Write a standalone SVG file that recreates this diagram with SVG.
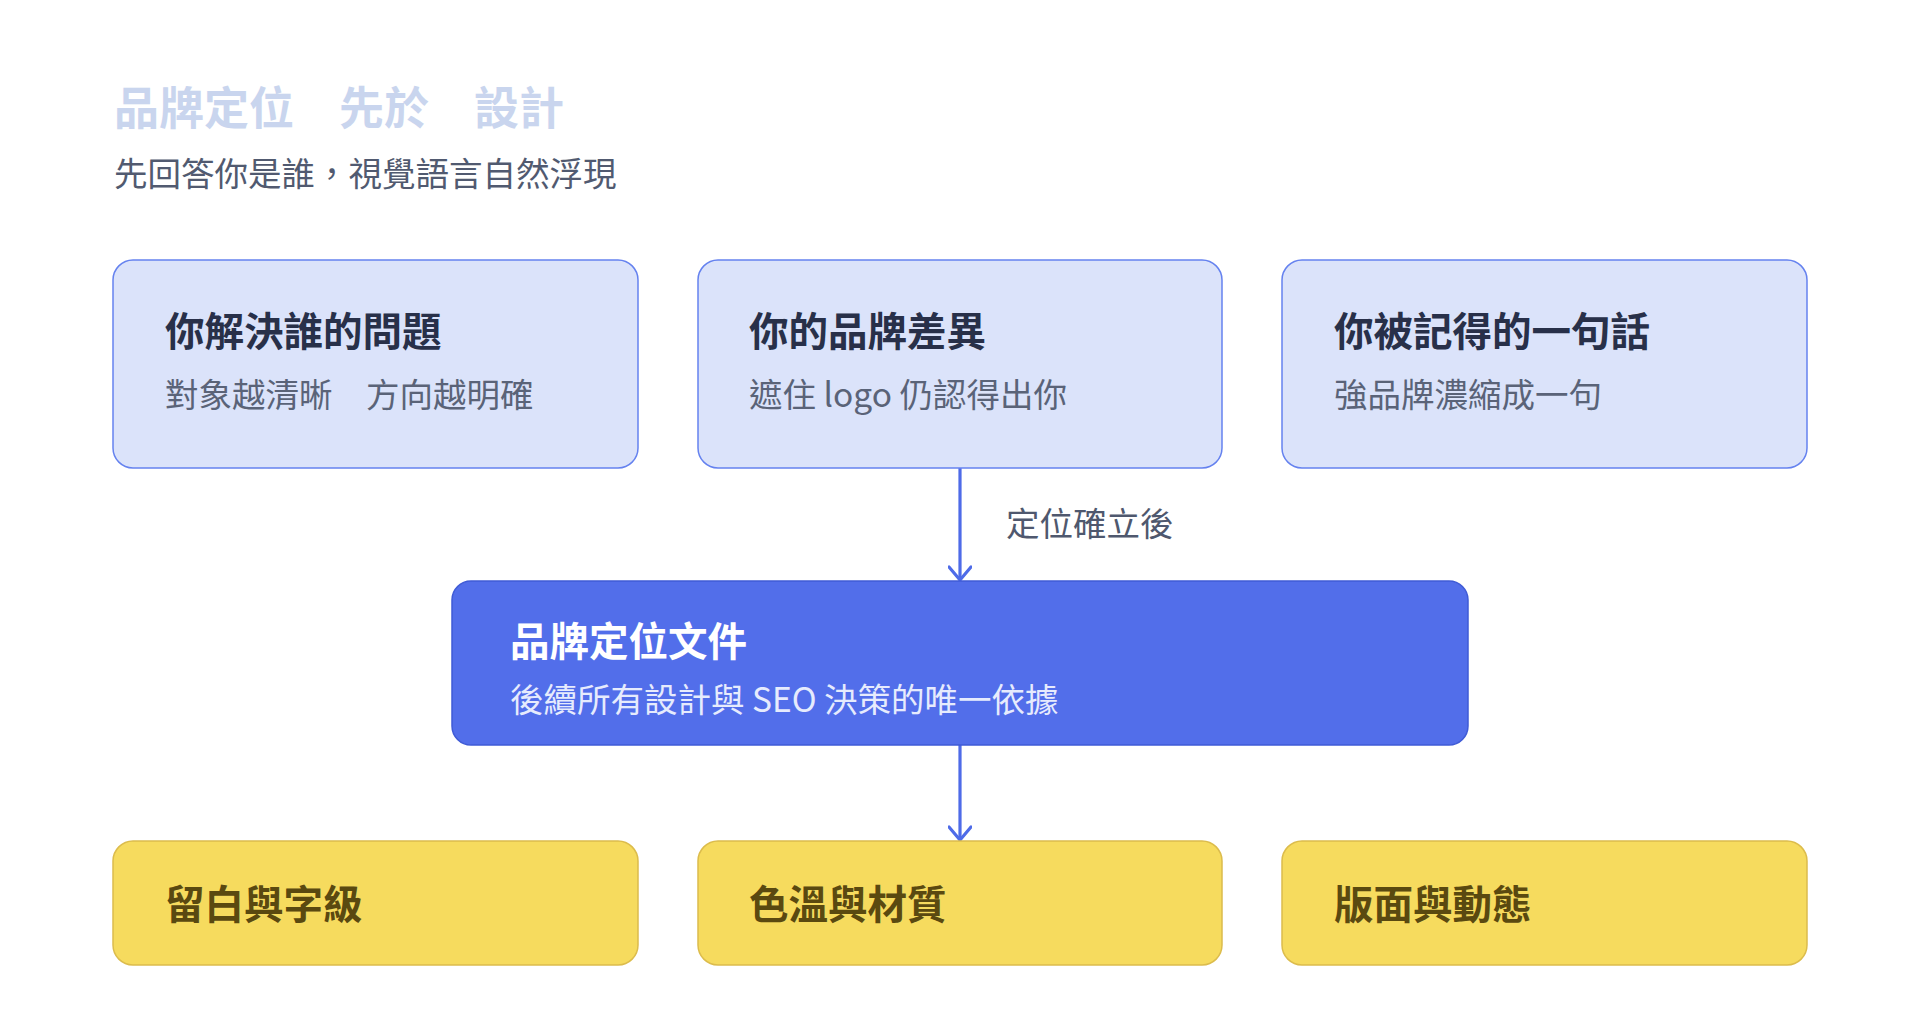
<svg xmlns="http://www.w3.org/2000/svg" width="1920" height="1016" viewBox="0 0 1920 1016">
<style>
text{font-family:"Noto Sans CJK TC","Noto Sans CJK SC",sans-serif;dominant-baseline:central}
.top rect{fill:#dbe3fa;stroke:#6582ef;stroke-width:1.5}
.mid rect{fill:#526eea;stroke:#3f5bd6;stroke-width:1.5}
.bot rect{fill:#f6db5e;stroke:#dcbc4c;stroke-width:1.5}
.t{font-size:39.5px;font-weight:700;fill:#283049}
.s{font-size:33.5px;fill:#5a6378}
.mt{font-size:39.5px;font-weight:700;fill:#ffffff}
.ms{font-size:33.5px;fill:#e6ebfd}
.bt{font-size:39.5px;font-weight:700;fill:#5a4910}
.edge{stroke:#4e6be8;stroke-width:3.2;fill:none}
</style>
<defs>
<marker id="chev" viewBox="-12 -16 24 18" refX="0" refY="0" markerWidth="24" markerHeight="18" markerUnits="userSpaceOnUse" orient="0">
<path d="M-11 -13 L0 0 L11 -13" fill="none" stroke="#4e6be8" stroke-width="3.2" stroke-linecap="round" stroke-linejoin="round"/>
</marker>
</defs>
<rect width="1920" height="1016" fill="#ffffff"/>
<g id="header">
<text x="114" y="105" style="font-size:45px;font-weight:700;fill:#c9d5ee">品牌定位　先於　設計</text>
<text x="114" y="171" style="font-size:33.5px;fill:#515a70">先回答你是誰，視覺語言自然浮現</text>
</g>
<g id="connectors">
<line class="edge" x1="960" y1="468" x2="960" y2="580" marker-end="url(#chev)"/>
<line class="edge" x1="960" y1="745" x2="960" y2="840" marker-end="url(#chev)"/>
<text x="1006" y="521" class="s" style="fill:#4f586e">定位確立後</text>
</g>
<g id="node-problem" class="top">
<rect x="113" y="260" width="525" height="208" rx="20"/>
<text x="165" y="328" class="t">你解決誰的問題</text>
<text x="165" y="392" class="s">對象越清晰　方向越明確</text>
</g>
<g id="node-difference" class="top">
<rect x="698" y="260" width="524" height="208" rx="20"/>
<text x="749" y="328" class="t">你的品牌差異</text>
<text x="749" y="392" class="s">遮住 logo 仍認得出你</text>
</g>
<g id="node-phrase" class="top">
<rect x="1282" y="260" width="525" height="208" rx="20"/>
<text x="1334" y="328" class="t">你被記得的一句話</text>
<text x="1334" y="392" class="s">強品牌濃縮成一句</text>
</g>
<g id="node-doc" class="mid">
<rect x="452" y="581" width="1016" height="164" rx="19"/>
<text x="510" y="638" class="mt">品牌定位文件</text>
<text x="510" y="697" class="ms">後續所有設計與 SEO 決策的唯一依據</text>
</g>
<g id="node-whitespace" class="bot">
<rect x="113" y="841" width="525" height="124" rx="20"/>
<text x="165" y="901" class="bt">留白與字級</text>
</g>
<g id="node-color" class="bot">
<rect x="698" y="841" width="524" height="124" rx="20"/>
<text x="749" y="901" class="bt">色溫與材質</text>
</g>
<g id="node-layout" class="bot">
<rect x="1282" y="841" width="525" height="124" rx="20"/>
<text x="1334" y="901" class="bt">版面與動態</text>
</g>
</svg>
